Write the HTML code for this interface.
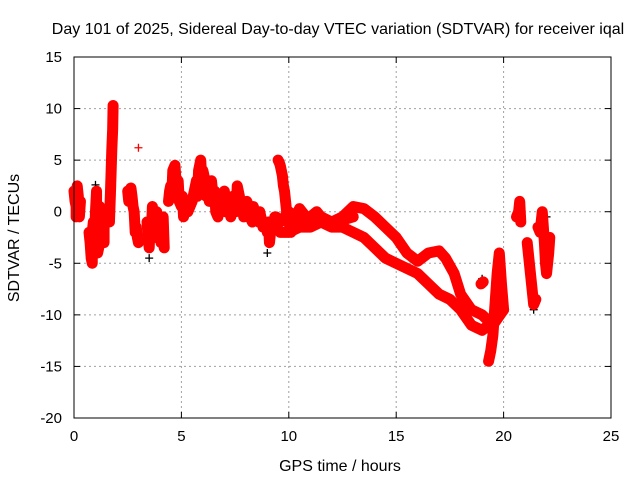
<!DOCTYPE html>
<html><head><meta charset="utf-8"><style>
html,body{margin:0;padding:0;background:#fff;}
svg text{font-family:"Liberation Sans",sans-serif;font-size:15px;fill:#000;}
svg text.ttl{font-size:16px;}
</style></head><body>
<svg id="chart" width="640" height="480" viewBox="0 0 640 480">
<rect width="640" height="480" fill="#fff"/>
<text class="ttl" x="338" y="34" text-anchor="middle">Day 101 of 2025, Sidereal Day-to-day VTEC variation (SDTVAR) for receiver iqal</text>
<text class="ttl" x="340" y="471" text-anchor="middle">GPS time / hours</text>
<text class="ttl" transform="translate(19,238) rotate(-90)" text-anchor="middle">SDTVAR / TECUs</text>
<g id="grid"></g><g id="ticks"></g><g id="marks"></g>
<rect x="74" y="57" width="537" height="361" fill="none" stroke="#000" stroke-width="1"/>
</svg>
<script>
const xTicks=[0,5,10,15,20,25];
const yTicks=[-20,-15,-10,-5,0,5,10,15];
const traceEarly1=[[0,2],[0.05,1],[0.1,0.5],[0.1,-0.5],[0.15,2.5],[0.2,1.5],[0.25,-0.5],[0.3,1]];
const traceEarly2=[[0.7,-2],[0.75,-3],[0.8,-4.5],[0.85,-5],[0.85,-2],[0.9,-1],[0.95,-2.5],[0.95,-4],[1.0,0],[1.05,2],[1.05,-1],[1.1,-2],[1.1,-4],[1.15,-3.5],[1.2,-1],[1.2,0.5],[1.25,-3],[1.3,0],[1.3,-2.5],[1.35,-2],[1.4,-3],[1.4,0],[1.45,-0.5]];
const traceSpike=[[1.65,-1],[1.7,2],[1.73,4],[1.76,6],[1.8,8],[1.82,10.3]];
const traceA=[[2.5,2],[2.55,1],[2.6,1],[2.65,2.3],[2.7,1.5],[2.75,0.5],[2.8,0],[2.85,-2],[2.9,-1.5],[2.95,-2.5],[3.0,-3]];
const traceB=[[3.4,-1],[3.45,-2.5],[3.5,-3.5],[3.55,-1],[3.6,-2],[3.65,0.5],[3.7,-1.5],[3.75,-1],[3.8,-2.5],[3.85,0],[3.9,-1],[3.95,-2],[4.0,-1],[4.05,-3],[4.1,-2],[4.15,-0.5],[4.2,-3.5]];
const traceC=[[4.4,1],[4.45,2],[4.5,2.5],[4.55,1.5],[4.6,4],[4.7,4.5],[4.75,3],[4.8,2],[4.85,3],[4.9,1],[5.0,0.5],[5.05,1.5],[5.1,-0.5],[5.2,1],[5.3,0],[5.4,0.5],[5.5,1],[5.6,2],[5.7,3],[5.75,1.5],[5.8,4],[5.9,5],[5.95,3],[6.0,4],[6.1,3],[6.15,1.5],[6.2,2],[6.3,1],[6.4,3],[6.5,1],[6.55,2],[6.6,0],[6.7,-0.5],[6.75,1],[6.8,1],[6.9,0.5],[7.0,2],[7.05,0],[7.1,1],[7.2,0.5],[7.3,-0.5],[7.35,1],[7.4,1.5],[7.5,1],[7.55,0],[7.6,2.5],[7.7,1.5],[7.75,0.5],[7.8,1],[7.9,-0.5],[8.0,0],[8.05,1],[8.1,0.5],[8.2,-0.5],[8.3,-1],[8.35,0.5],[8.4,0],[8.5,-0.5],[8.6,-1],[8.65,0],[8.7,-0.5],[8.8,-1.5],[8.9,-1],[9.0,-2],[9.05,-1],[9.1,-3],[9.2,-1],[9.3,-1.5],[9.35,-0.5],[9.4,-0.5]];
const traceD=[[9.5,5],[9.55,4.8],[9.6,4.5],[9.7,3.5],[9.75,2.5],[9.8,2],[9.85,1],[9.9,0],[10.0,-1],[10.1,-2]];
const bandUpper=[[9.6,-1],[10,0],[10.3,-0.5],[10.5,0.3],[10.8,-0.5],[11,-0.5],[11.3,0],[11.5,-0.5],[12,-1],[12.5,-0.5],[13,0.5],[13.5,0.3],[14,-0.5],[14.5,-1.5],[15,-2.5],[15.5,-4],[16,-4.8],[16.5,-4],[17,-3.8],[17.3,-4.5],[17.7,-6],[18,-8],[18.5,-9.5],[19,-10],[19.5,-11],[20,-9.5]];
const bandMid=[[10,-1],[10.5,-0.8],[11,-1],[11.5,-0.5],[12,-1.2],[12.5,-0.8],[13,-0.5]];
const bandLower=[[9.6,-2],[10,-2],[10.5,-1.5],[11,-1.5],[11.5,-1],[12,-1.5],[12.5,-1.5],[13,-2],[13.5,-2.5],[14,-3.5],[14.5,-4.5],[15,-5],[15.5,-5.5],[16,-6],[16.5,-7],[17,-8],[17.5,-8.5],[18,-9.5],[18.5,-11],[19,-11.5],[19.3,-11]];
const traceE=[[18.95,-7],[19.05,-6.8]];
const traceF=[[19.3,-14.5],[19.4,-13.5],[19.5,-12],[19.6,-9],[19.7,-6],[19.8,-4],[19.9,-7],[20.0,-9.5]];
const traceG=[[20.6,-0.5],[20.7,0],[20.75,1],[20.8,-1]];
const traceH=[[21.1,-3],[21.2,-5],[21.3,-7],[21.4,-9],[21.5,-8.5]];
const traceI=[[21.6,-1.5],[21.7,-2],[21.8,0],[21.9,-3],[21.95,-5],[22.0,-6],[22.1,-4],[22.15,-2.5]];
const blackPts=[[0.2,2.5],[1.0,2.6],[1.8,9],[3.5,-4.5],[9.0,-4],[19.0,-6.5],[21.4,-9.5],[22.0,-0.5]];
const traces=[traceEarly1,traceEarly2,traceSpike,traceA,traceB,traceC,traceD,bandUpper,bandMid,bandLower,traceE,traceF,traceG,traceH,traceI];
const single=[[3.0,6.2]];

const X0=74,X1=611,Y0=418,Y1=57;
const xs=t=>X0+(t-0)/25*(X1-X0);
const ys=v=>Y0-(v+20)/35*(Y0-Y1);
const NS='http://www.w3.org/2000/svg';
const grid=document.getElementById('grid'),ticks=document.getElementById('ticks'),marks=document.getElementById('marks');
function mk(tag,attrs,parent){const e=document.createElementNS(NS,tag);for(const k in attrs)e.setAttribute(k,attrs[k]);parent.appendChild(e);return e;}
xTicks.forEach(t=>{const x=xs(t);
 if(t>0&&t<25){const g=mk('line',{x1:x,x2:x,y1:Y0,y2:Y1,stroke:'#a0a0a0','stroke-dasharray':'2,3'},grid);
 
 }
 mk('line',{x1:x,x2:x,y1:Y0,y2:Y0-6,stroke:'#000'},ticks);
 mk('line',{x1:x,x2:x,y1:Y1,y2:Y1+6,stroke:'#000'},ticks);
 const l=mk('text',{x:x,y:Y0+23,'text-anchor':'middle'},ticks);l.textContent=t;
 
 });
yTicks.forEach(v=>{const y=ys(v);
 if(v>-20&&v<15){const g=mk('line',{x1:X0,x2:X1,y1:y,y2:y,stroke:'#a0a0a0','stroke-dasharray':'2,3'},grid);
 
 }
 mk('line',{x1:X0,x2:X0+6,y1:y,y2:y,stroke:'#000'},ticks);
 mk('line',{x1:X1,x2:X1-6,y1:y,y2:y,stroke:'#000'},ticks);
 const l=mk('text',{x:X0-12,y:y+5,'text-anchor':'end'},ticks);l.textContent=v;
 
 });
function plus(t,v,col,name){const x=xs(t),y=ys(v);
 const p=mk('path',{d:`M${x-4},${y}h8M${x},${y-4}v8`,stroke:col,'stroke-width':1.3,fill:'none'},marks);
 
 }
blackPts.forEach(p=>plus(p[0],p[1],'#000','black-point'));
traces.forEach(tr=>{
 const pl=mk('polyline',{points:tr.map(p=>xs(p[0])+','+ys(p[1])).join(' '),stroke:'#f00','stroke-width':11,fill:'none','stroke-linejoin':'round','stroke-linecap':'round'},marks);
 
 
 tr.forEach(p=>plus(p[0],p[1],'#f00','sdtvar-point'));});
single.forEach(p=>plus(p[0],p[1],'#f00','sdtvar-point'));
</script>
</body></html>
